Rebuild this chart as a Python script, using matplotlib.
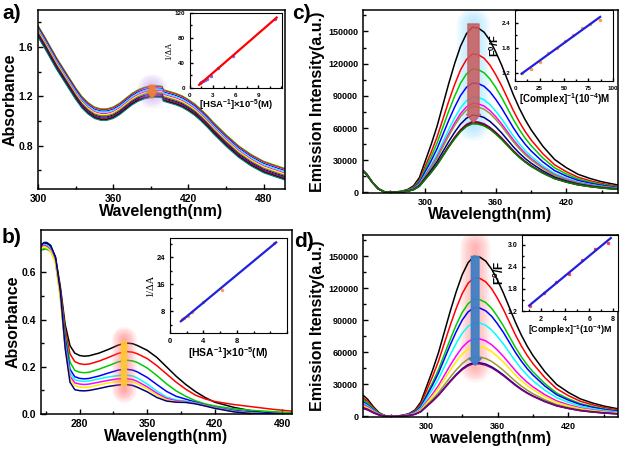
import numpy as np
import matplotlib
matplotlib.use('Agg')
import matplotlib.pyplot as plt
from matplotlib.ticker import MultipleLocator

plt.rcParams['font.family'] = ['Liberation Sans', 'DejaVu Sans']
plt.rcParams['font.weight'] = 'bold'
plt.rcParams['axes.labelweight'] = 'bold'
plt.rcParams['mathtext.fontset'] = 'custom'
plt.rcParams['mathtext.rm'] = 'Liberation Sans:bold'
plt.rcParams['mathtext.bf'] = 'Liberation Sans:bold'
plt.rcParams['mathtext.default'] = 'bf'
plt.rcParams['axes.linewidth'] = 1.1

##------------ panel a: UV-vis absorbance -----------------##
wl_a = [300, 305, 310, 315, 320, 325, 330, 335, 340, 345, 350, 355, 360, 365, 370,
        375, 380, 385, 390, 395, 399, 400, 405, 410, 415, 420, 425, 430, 435, 440,
        445, 450, 455, 460, 470, 480, 490, 497]
top_a = [1.775, 1.69, 1.60, 1.51, 1.43, 1.35, 1.27, 1.20, 1.15, 1.115, 1.10, 1.10, 1.115,
         1.145, 1.185, 1.225, 1.255, 1.275, 1.285, 1.287, 1.283, 1.255, 1.24, 1.225, 1.205,
         1.175, 1.14, 1.095, 1.045, 0.99, 0.94, 0.89, 0.845, 0.80, 0.73, 0.675, 0.64, 0.617]
drop_a = [0, 0.006, 0.018, 0.027, 0.038, 0.047, 0.056, 0.066, 0.074, 0.082, 0.088, 0.094]
colors_a = ['#00cc00', '#ff0000', '#0000ff', '#00ffff', '#ff00ff', '#ffff00', '#808000',
            '#000080', '#800080', '#800000', '#000000', '#008080']

inset_a_x = [1.3, 1.5, 1.75, 2.0, 2.2, 2.7, 3.7, 5.6, 11.2]
inset_a_y = [8.1, 9.5, 10.7, 12.5, 14.5, 18.7, 32.3, 51, 111]

##------------ panel b: UV-vis absorbance -----------------##
wl_b = [240, 243, 246, 250, 255, 260, 265, 270, 275, 280, 285, 290, 300, 310, 320, 328,
        335, 340, 350, 360, 370, 380, 390, 400, 410, 420, 440, 460, 480, 500]
abs_b = {
    '#000000': [0.700, 0.722, 0.724, 0.712, 0.665, 0.54, 0.38, 0.29, 0.258, 0.248, 0.245, 0.247,
                0.258, 0.274, 0.292, 0.301, 0.298, 0.29, 0.27, 0.24, 0.2, 0.16, 0.125, 0.095,
                0.07, 0.05, 0.028, 0.012, 0.003, 0.0],
    '#ff0000': [0.705, 0.715, 0.712, 0.70, 0.655, 0.53, 0.36, 0.255, 0.222, 0.213, 0.21, 0.212,
                0.224, 0.24, 0.257, 0.265, 0.262, 0.255, 0.235, 0.205, 0.17, 0.135, 0.105, 0.08,
                0.064, 0.053, 0.04, 0.03, 0.02, 0.012],
    '#00cc00': [0.695, 0.70, 0.698, 0.69, 0.645, 0.515, 0.34, 0.22, 0.185, 0.177, 0.175, 0.177,
                0.19, 0.205, 0.221, 0.228, 0.225, 0.218, 0.195, 0.163, 0.128, 0.098, 0.075,
                0.056, 0.043, 0.034, 0.022, 0.015, 0.01, 0.006],
    '#0000ff': [0.715, 0.72, 0.715, 0.70, 0.65, 0.51, 0.32, 0.19, 0.158, 0.151, 0.149, 0.151,
                0.161, 0.174, 0.186, 0.19, 0.186, 0.178, 0.155, 0.125, 0.096, 0.075, 0.063,
                0.05, 0.038, 0.028, 0.015, 0.007, 0.003, 0.0],
    '#00ffff': [0.72, 0.72, 0.715, 0.70, 0.65, 0.505, 0.30, 0.175, 0.145, 0.14, 0.138, 0.14,
                0.149, 0.157, 0.163, 0.165, 0.161, 0.152, 0.127, 0.097, 0.072, 0.06, 0.055,
                0.047, 0.037, 0.027, 0.012, 0.004, 0.0, 0.0],
    '#ff00ff': [0.71, 0.715, 0.71, 0.695, 0.645, 0.50, 0.29, 0.16, 0.132, 0.127, 0.125, 0.127,
                0.135, 0.143, 0.149, 0.15, 0.146, 0.138, 0.115, 0.088, 0.066, 0.056, 0.052,
                0.045, 0.036, 0.026, 0.011, 0.003, 0.0, 0.0],
    '#ffee00': [0.70, 0.71, 0.705, 0.69, 0.64, 0.49, 0.28, 0.15, 0.12, 0.114, 0.112, 0.114,
                0.123, 0.132, 0.138, 0.14, 0.136, 0.128, 0.106, 0.08, 0.06, 0.052, 0.05,
                0.044, 0.035, 0.025, 0.01, 0.002, 0.0, 0.0],
    '#000080': [0.715, 0.727, 0.727, 0.715, 0.665, 0.52, 0.28, 0.135, 0.103, 0.099, 0.098, 0.1,
                0.108, 0.117, 0.123, 0.125, 0.121, 0.113, 0.094, 0.07, 0.055, 0.05, 0.049,
                0.043, 0.034, 0.024, 0.009, 0.001, 0.0, 0.0],
}
inset_b_x = [1.4, 1.7, 2.2, 2.6, 4.0, 6.2, 12.5]
inset_b_y = [5.7, 6.0, 6.6, 7.8, 10.8, 14.3, 28.3]

##------------ panels c, d: emission spectra -----------------##
wl_em = [246, 250, 255, 260, 265, 270, 275, 280, 285, 290, 295, 300, 305, 310, 315, 320,
         325, 330, 335, 340, 345, 350, 355, 360, 365, 370, 375, 380, 385, 390, 400, 410,
         420, 430, 440, 450, 464]
em_profile = [0, 0, 0, 0, 0, 0, 0.003, 0.008, 0.018, 0.04, 0.09, 0.19, 0.29, 0.40, 0.53,
              0.66, 0.78, 0.885, 0.96, 1.0, 0.995, 0.97, 0.92, 0.85, 0.77, 0.68, 0.59, 0.51,
              0.44, 0.38, 0.28, 0.2, 0.15, 0.11, 0.085, 0.065, 0.045]
scatter_shape = [1.25, 1.0, 0.55, 0.2, 0.04] + [0] * 32

peaks_c = [154000, 129000, 115000, 102000, 89000, 83000, 80000, 72000, 66000, 65000, 64000]
scatter_c = [17000, 17000, 17000, 17000, 17000, 17500, 17000, 17000, 17000, 17000, 17000]
colors_c = ['#000000', '#ff0000', '#00cc00', '#0000ff', '#00ffff', '#ff00ff', '#999933',
            '#000080', '#800080', '#800000', '#008000']
inset_c_x = [6.8, 16, 25.5, 34, 42.5, 51, 59.5, 68.7, 77, 86.7]
inset_c_y = [1.19, 1.28, 1.45, 1.68, 1.79, 1.96, 2.10, 2.26, 2.36, 2.47]

peaks_d = [150000, 130000, 110000, 102000, 88000, 73000, 66000, 56000, 50500, 49500]
scatter_d = [16000, 14000, 12500, 11000, 10000, 9000, 8000, 7000, 6500, 6000]
colors_d = ['#000000', '#ff0000', '#00cc00', '#0000ff', '#00ffff', '#ff00ff', '#ffee00',
            '#999933', '#000080', '#800080']
inset_d_x = [1.1, 2.2, 3.2, 4.3, 5.4, 6.5, 7.6]
inset_d_y = [1.33, 1.68, 1.98, 2.22, 2.58, 2.90, 3.05]


def style(ax, size=7, length=3.5):
    ax.tick_params(which='both', direction='in', labelsize=size, width=1)
    ax.tick_params(which='major', length=length)
    ax.tick_params(which='minor', length=length * 0.6)


def glow(ax, x, y0, y1, color, width, n=10, alpha=0.1, z=1):
    for k in range(n):
        ax.plot([x, x], [y0, y1], color=color, lw=width * (k + 1) / n, alpha=alpha,
                solid_capstyle='round', zorder=z)


def arrow(ax, x, y0, y1, color, tail, head, hl, alpha=1.0):
    ax.annotate('', xy=(x, y1), xytext=(x, y0), zorder=5,
                arrowprops=dict(arrowstyle='simple,tail_width=%g,head_width=%g,head_length=%g'
                                % (tail, head, hl), color=color, alpha=alpha,
                                mutation_scale=10, shrinkA=0, shrinkB=0))


def inset_fit(ax, xs, ys, mcolor, lcolor, lw=1.6):
    k, b = np.polyfit(xs, ys, 1)
    xx = np.array([min(xs) - 0.1, max(xs) + 0.2])
    ax.plot(xs, ys, 'o', ms=2.5, color=mcolor, mec='none', zorder=2)
    ax.plot(xx, k * xx + b, color=lcolor, lw=lw, zorder=3)


fig = plt.figure(figsize=(6.25, 4.53), dpi=100)
W, H = 625., 453.


def box(l, t, r, b):
    return [l / W, 1 - b / H, (r - l) / W, (b - t) / H]


# ---------------- a ----------------
ax = fig.add_axes(box(38, 10, 285, 189))
wa = np.array(wl_a)
for d, c in zip(drop_a, colors_a):
    ax.plot(wa, np.array(top_a) - d, color=c, lw=0.8, zorder=2)
glow(ax, 391, 1.225, 1.26, '#b48cf0', 22, alpha=0.08, z=3)
arrow(ax, 391, 1.29, 1.185, '#f08030', 0.4, 0.7, 0.5, alpha=0.9)
ax.set_xlim(300, 497)
ax.set_ylim(0.45, 1.9)
ax.xaxis.set_major_locator(MultipleLocator(60))
ax.xaxis.set_minor_locator(MultipleLocator(30))
ax.yaxis.set_minor_locator(MultipleLocator(0.2))
ax.set_yticks([0.8, 1.2, 1.6])
style(ax, 7.5)
ax.set_xlabel('Wavelength(nm)', fontsize=11.5, labelpad=0)
ax.set_ylabel('Absorbance', fontsize=11.5, labelpad=1)

ia = fig.add_axes(box(190, 13, 282, 88))
inset_fit(ia, inset_a_x, inset_a_y, '#6a6aff', '#ff0000')
ia.set_xlim(0, 12.1)
ia.set_ylim(0, 120)
ia.set_xticks([0, 3, 6, 9])
ia.set_yticks([0, 40, 80, 120])
ia.xaxis.set_minor_locator(MultipleLocator(1.5))
ia.yaxis.set_minor_locator(MultipleLocator(20))
style(ia, 4.5, 2)
for s in ia.spines.values():
    s.set_linewidth(0.8)
ia.set_xlabel('[HSA$^{-1}$]×10$^{-5}$(M)', fontsize=6.8, labelpad=0)
ia.set_ylabel('1/ΔA', fontsize=6, family='Liberation Serif', fontweight='normal', labelpad=1)

# ---------------- b ----------------
ax = fig.add_axes(box(41, 230, 292, 414))
for c, vals in abs_b.items():
    ax.plot(wl_b, vals, color=c, lw=1.1, zorder=2)
glow(ax, 326, 0.1, 0.32, '#ff6060', 18, alpha=0.07, z=3)
ax.plot([326, 326], [0.118, 0.308], color='#ffc830', lw=4.5, alpha=0.95, zorder=4,
        solid_capstyle='butt')
ax.set_xlim(240, 500)
ax.set_ylim(0, 0.78)
ax.set_xticks([280, 350, 420, 490])
ax.set_xticks([245, 315, 385, 455], minor=True)
ax.set_yticks([0.0, 0.2, 0.4, 0.6])
ax.yaxis.set_minor_locator(MultipleLocator(0.1))
style(ax, 7.5)
ax.set_xlabel('Wavelength(nm)', fontsize=11.5, labelpad=0)
ax.set_ylabel('Absorbance', fontsize=11.5, labelpad=1)

ib = fig.add_axes(box(170, 238, 287, 333))
inset_fit(ib, inset_b_x, inset_b_y, '#ffa040', '#2020e0')
ib.set_xlim(0, 14)
ib.set_ylim(1.6, 29.7)
ib.set_xticks([0, 4, 8])
ib.set_yticks([8, 16, 24])
ib.xaxis.set_minor_locator(MultipleLocator(2))
ib.yaxis.set_minor_locator(MultipleLocator(4))
style(ib, 5.5, 2)
for s in ib.spines.values():
    s.set_linewidth(0.8)
ib.set_xlabel('[HSA$^{-1}$]×10$^{-5}$(M)', fontsize=7.5, labelpad=0)
ib.set_ylabel('1/ΔA', fontsize=7.5, family='Liberation Serif', fontweight='normal', labelpad=1)


# ---------------- c, d ----------------
def emission(ax, peaks, scat, cols):
    prof = np.array(em_profile)
    sc = np.array(scatter_shape)
    for p, s, c in zip(peaks, scat, cols):
        ax.plot(wl_em, p * prof + s * sc, color=c, lw=1.1, zorder=2)
    ax.set_xlim(247, 464)
    ax.set_ylim(-500, 170000)
    ax.set_xticks([300, 360, 420])
    ax.set_xticks([270, 330, 390, 450], minor=True)
    ax.set_yticks(np.arange(0, 150001, 30000))
    ax.yaxis.set_minor_locator(MultipleLocator(15000))
    style(ax, 6.5)


ax = fig.add_axes(box(363, 10, 618, 193))
glow(ax, 341, 64000, 157000, '#8fdcff', 24, alpha=0.09, z=1)
emission(ax, peaks_c, scatter_c, colors_c)
arrow(ax, 341, 157000, 65000, '#c85a5a', 0.8, 1.0, 0.6, alpha=0.85)
ax.set_xlabel('Wavelength(nm)', fontsize=11.5, labelpad=0)
ax.set_ylabel('Emission Intensity(a.u.)', fontsize=11.5, labelpad=2)

ic = fig.add_axes(box(515, 10, 613, 81))
inset_fit(ic, inset_c_x, inset_c_y, '#ffa040', '#2020e0')
ic.set_xlim(0, 100)
ic.set_ylim(1.0, 2.7)
ic.set_xticks([0, 25, 50, 75, 100])
ic.set_yticks([1.2, 1.8, 2.4])
ic.xaxis.set_minor_locator(MultipleLocator(12.5))
ic.yaxis.set_minor_locator(MultipleLocator(0.3))
style(ic, 4.5, 2)
for s in ic.spines.values():
    s.set_linewidth(0.8)
ic.set_xlabel('[Complex]$^{-1}$(10$^{-4}$)M', fontsize=7, labelpad=0)
ic.set_ylabel('F$^0$/F', fontsize=8, labelpad=0)

ax = fig.add_axes(box(363, 235, 618, 417))
glow(ax, 341, 46000, 160000, '#ff8080', 22, alpha=0.08, z=1)
emission(ax, peaks_d, scatter_d, colors_d)
arrow(ax, 341, 150000, 48000, '#3f7fc4', 0.55, 0.9, 0.5, alpha=0.95)
ax.set_xlim(246, 462)
ax.set_xlabel('wavelength(nm)', fontsize=11.5, labelpad=0)
ax.set_ylabel('Emission Itensity(a.u.)', fontsize=11.5, labelpad=2)

idd = fig.add_axes(box(522, 235, 618, 311))
inset_fit(idd, inset_d_x, inset_d_y, '#ff4040', '#2020e0')
idd.set_xlim(0.4, 8.4)
idd.set_ylim(1.2, 3.27)
idd.set_xticks([2, 4, 6, 8])
idd.set_yticks([1.2, 1.8, 2.4, 3.0])
idd.xaxis.set_minor_locator(MultipleLocator(1))
idd.yaxis.set_minor_locator(MultipleLocator(0.3))
style(idd, 5, 2)
for s in idd.spines.values():
    s.set_linewidth(0.8)
idd.set_xlabel('[Complex]$^{-1}$(10$^{-4}$)M', fontsize=6.5, labelpad=0)
idd.set_ylabel('F$^0$/F', fontsize=8.5, labelpad=0)

# panel letters
for lbl, x, y in [('a)', 2, 4), ('b)', 2, 228), ('c)', 292, 4), ('d)', 294, 232)]:
    fig.text(x / W, 1 - y / H, lbl, fontsize=15, fontweight='bold', va='top', ha='left')

fig.savefig('out.png', dpi=100)
